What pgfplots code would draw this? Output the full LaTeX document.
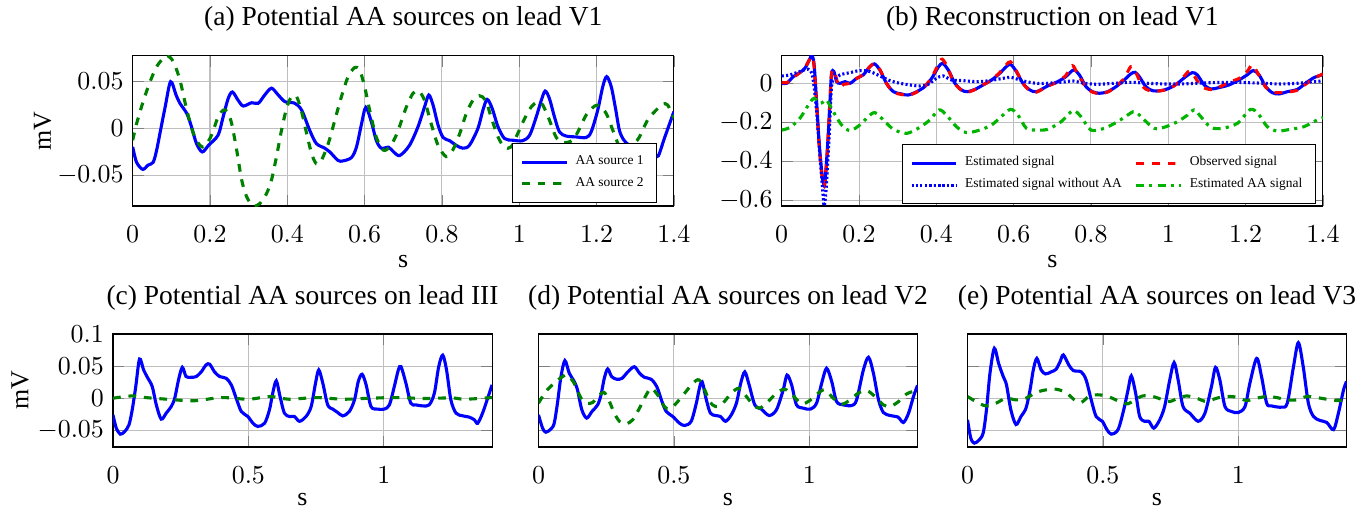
\documentclass[border=0pt]{standalone}
\usepackage{fontspec}
\setmainfont{Liberation Serif}
\usepackage{pgfplots}
\pgfplotsset{compat=1.18}
\definecolor{dgreen}{RGB}{0,128,0}
\definecolor{lgreen}{RGB}{0,180,0}
\definecolor{pblue}{RGB}{0,0,255}
\pgfplotsset{
  base/.style={scale only axis, anchor=south west, grid=major, xmin=0, xmax=1.4,
    enlargelimits=false, scaled ticks=false,
    yticklabel style={/pgf/number format/fixed,/pgf/number format/precision=3},
    tick label style={font=\fontsize{10}{12}\selectfont},
    xticklabel style={yshift=-4pt},
    title style={at={(0.5,1)}, anchor=base, yshift=5.5pt, font=\fontsize{10.6}{12.7}\selectfont},
    label style={font=\fontsize{10}{12}\selectfont},
    every axis plot/.append style={line width=1.2pt, smooth},
    legend cell align=left,
    legend style={font=\fontsize{5.2}{6.2}\selectfont, anchor=north west, inner xsep=3pt, inner ysep=2.6pt,
      row sep=-0.6pt, /tikz/every even column/.append style={column sep=3pt},
      /tikz/every odd column/.append style={column sep=1pt}},
  },
  toprow/.style={base, width=208.9pt, height=58.02pt, xtick={0,0.2,0.4,0.6,0.8,1,1.2,1.4},
    xlabel style={at={(axis description cs:0.5,-0.3706)}, anchor=center},
    ylabel style={at={(axis description cs:-0.1666,0.5)}, anchor=center}},
  botrow/.style={base, width=146.3pt, height=43.62pt, xtick={0,0.5,1}, ymin=-0.076, ymax=0.1,
    ytick={-0.05,0,0.05,0.1},
    xlabel style={at={(axis description cs:0.5,-0.469)}, anchor=center},
    ylabel style={at={(axis description cs:-0.2454,0.5)}, anchor=center}},
}
\begin{document}
\begin{tikzpicture}
\path[use as bounding box] (0,0) rectangle (529.21pt,-197.63pt);
% (a)
\begin{axis}[toprow, at={(51.22pt,-79.52pt)}, ymin=-0.0827, ymax=0.0777, ytick={-0.05,0,0.05},
  title={(a) Potential AA sources on lead V1}, xlabel={s}, ylabel={mV},
  legend style={at={(axis description cs:0.7013,0.4172)}}]
\addplot[pblue] coordinates {(0,-0.0196) (0.01,-0.036) (0.026,-0.0436) (0.04,-0.039) (0.053,-0.036) (0.062,-0.023) (0.072,-0.002) (0.084,0.023) (0.098,0.05) (0.112,0.036) (0.122,0.027) (0.14,0.016) (0.152,0.002) (0.165,-0.016) (0.18,-0.025) (0.196,-0.018) (0.221,-0.007) (0.234,0.0125) (0.247,0.032) (0.258,0.039) (0.273,0.030) (0.286,0.024) (0.3075,0.0275) (0.325,0.027) (0.342,0.036) (0.359,0.043) (0.376,0.036) (0.394,0.0286) (0.419,0.027) (0.437,0.0196) (0.458,-0.002) (0.475,-0.016) (0.497,-0.021) (0.51,-0.025) (0.531,-0.034) (0.544,-0.0346) (0.566,-0.031) (0.579,-0.0196) (0.592,0.005) (0.603,0.0225) (0.6175,0.007) (0.63,-0.0125) (0.643,-0.021) (0.662,-0.020) (0.675,-0.025) (0.691,-0.0288) (0.716,-0.018) (0.738,0.0018) (0.755,0.023) (0.766,0.0357) (0.777,0.025) (0.79,0.0036) (0.803,-0.0096) (0.82,-0.013) (0.837,-0.018) (0.854,-0.021) (0.871,-0.018) (0.893,0) (0.906,0.0196) (0.917,0.031) (0.93,0.0214) (0.945,0.0018) (0.962,-0.0107) (0.983,-0.0125) (1.009,-0.013) (1.027,-0.007) (1.044,0.0125) (1.057,0.030) (1.067,0.040) (1.078,0.032) (1.091,0.0125) (1.104,-0.0036) (1.121,-0.008) (1.147,-0.009) (1.173,-0.0096) (1.186,-0.0036) (1.203,0.0196) (1.216,0.0446) (1.226,0.0554) (1.238,0.0446) (1.249,0.0214) (1.259,-0.0018) (1.27,-0.012) (1.285,-0.018) (1.31,-0.021) (1.335,-0.023) (1.35,-0.027) (1.36,-0.029) (1.375,-0.011) (1.4,0.018)};
\addlegendentry{AA source 1}
\addplot[dgreen, dashed] coordinates {(0,-0.0125) (0.01,0.005) (0.028,0.030) (0.045,0.05) (0.062,0.066) (0.079,0.075) (0.09,0.0777) (0.105,0.0714) (0.122,0.052) (0.14,0.0196) (0.157,-0.0054) (0.174,-0.018) (0.187,-0.019) (0.204,-0.007) (0.221,0.0125) (0.234,0.0196) (0.245,0.018) (0.256,0.0054) (0.269,-0.023) (0.282,-0.055) (0.295,-0.073) (0.312,-0.0827) (0.329,-0.080) (0.346,-0.0696) (0.359,-0.055) (0.372,-0.030) (0.385,-0.0018) (0.398,0.0214) (0.411,0.034) (0.424,0.034) (0.437,0.018) (0.45,-0.0054) (0.463,-0.027) (0.475,-0.0375) (0.488,-0.034) (0.506,-0.016) (0.523,0.009) (0.54,0.034) (0.557,0.055) (0.574,0.065) (0.587,0.0625) (0.6,0.0446) (0.613,0.0196) (0.63,-0.009) (0.648,-0.023) (0.665,-0.0196) (0.682,-0.007) (0.699,0.0125) (0.708,0.023) (0.725,0.0375) (0.74,0.040) (0.755,0.030) (0.772,0.0054) (0.79,-0.018) (0.811,-0.030) (0.828,-0.023) (0.846,-0.0054) (0.863,0.016) (0.88,0.030) (0.897,0.035) (0.913,0.030) (0.927,0.0125) (0.945,-0.009) (0.962,-0.020) (0.979,-0.0196) (0.996,-0.0054) (1.014,0.0107) (1.031,0.023) (1.048,0.0286) (1.061,0.025) (1.078,0.009) (1.095,-0.009) (1.112,-0.015) (1.138,-0.0125) (1.156,0) (1.173,0.0143) (1.195,0.024) (1.207,0.024) (1.225,0.016) (1.242,-0.0018) (1.259,-0.0196) (1.272,-0.024) (1.285,-0.022) (1.30,-0.015) (1.311,-0.009) (1.332,0.009) (1.354,0.0196) (1.371,0.026) (1.384,0.025) (1.4,0.011)};
\addlegendentry{AA source 2}
\end{axis}
% (b)
\begin{axis}[toprow, at={(301.74pt,-79.52pt)}, ymin=-0.627, ymax=0.141, ytick={-0.6,-0.4,-0.2,0},
  title={(b) Reconstruction on lead V1}, xlabel={s},
  legend columns=2, legend style={at={(axis description cs:0.2218,0.4125)}}]
\addplot[pblue] coordinates {(0,0) (0.013,0) (0.03,0.034) (0.047,0.0545) (0.06,0.077) (0.0715,0.119) (0.0775,0.141) (0.0835,0.102) (0.09,-0.085) (0.097,-0.307) (0.104,-0.46) (0.108,-0.511) (0.112,-0.50) (0.119,-0.307) (0.125,-0.085) (0.129,0.051) (0.135,0.06) (0.142,0.0085) (0.151,0) (0.164,0.0085) (0.177,0) (0.194,0.0256) (0.211,0.043) (0.228,0.085) (0.24,0.099) (0.254,0.068) (0.271,0) (0.289,-0.043) (0.31,-0.0545) (0.327,-0.06) (0.349,-0.043) (0.37,-0.017) (0.388,0.0256) (0.405,0.082) (0.416,0.102) (0.431,0.068) (0.448,0) (0.465,-0.034) (0.48,-0.043) (0.5,-0.031) (0.521,-0.0085) (0.543,0.017) (0.564,0.051) (0.581,0.085) (0.592,0.097) (0.607,0.06) (0.624,0) (0.642,-0.034) (0.659,-0.043) (0.688,-0.0136) (0.714,0.0085) (0.735,0.034) (0.755,0.068) (0.77,0.043) (0.787,-0.017) (0.804,-0.043) (0.822,-0.051) (0.843,-0.043) (0.865,-0.017) (0.886,0.017) (0.903,0.048) (0.914,0.056) (0.925,0.034) (0.942,-0.017) (0.959,-0.0375) (0.981,-0.0375) (1.002,-0.0256) (1.024,0) (1.045,0.034) (1.062,0.0545) (1.075,0.043) (1.093,-0.0085) (1.11,-0.029) (1.131,-0.022) (1.157,-0.0085) (1.183,0.017) (1.204,0.043) (1.22,0.065) (1.235,0.043) (1.252,-0.017) (1.269,-0.048) (1.286,-0.0545) (1.308,-0.043) (1.334,-0.031) (1.355,0) (1.377,0.029) (1.398,0.043)};
\addlegendentry{Estimated signal}
\addplot[red, dashed] coordinates {(0,0.005) (0.013,0.003) (0.03,0.03) (0.047,0.055) (0.06,0.08) (0.0715,0.12) (0.0775,0.137) (0.0835,0.09) (0.09,-0.1) (0.097,-0.32) (0.104,-0.47) (0.108,-0.52) (0.112,-0.505) (0.119,-0.32) (0.125,-0.08) (0.129,0.05) (0.133,0.068) (0.138,0.05) (0.145,0.0) (0.152,-0.02) (0.16,-0.005) (0.177,0.0) (0.194,0.025) (0.211,0.045) (0.228,0.085) (0.24,0.1) (0.254,0.07) (0.271,0.0) (0.289,-0.045) (0.31,-0.057) (0.327,-0.062) (0.349,-0.045) (0.37,-0.015) (0.388,0.03) (0.405,0.095) (0.415,0.123) (0.428,0.085) (0.445,0.005) (0.465,-0.035) (0.48,-0.045) (0.5,-0.032) (0.521,-0.008) (0.543,0.018) (0.564,0.055) (0.581,0.095) (0.592,0.11) (0.605,0.07) (0.624,0.0) (0.642,-0.038) (0.659,-0.045) (0.688,-0.015) (0.714,0.008) (0.735,0.04) (0.752,0.09) (0.765,0.05) (0.787,-0.02) (0.804,-0.045) (0.822,-0.052) (0.843,-0.045) (0.865,-0.015) (0.886,0.025) (0.903,0.085) (0.915,0.06) (0.93,-0.005) (0.942,-0.03) (0.959,-0.04) (0.981,-0.038) (1.002,-0.028) (1.024,0.0) (1.045,0.045) (1.055,0.063) (1.068,0.035) (1.085,-0.015) (1.11,-0.032) (1.131,-0.02) (1.157,0.005) (1.183,0.025) (1.204,0.06) (1.217,0.094) (1.232,0.05) (1.252,-0.02) (1.269,-0.045) (1.29,-0.048) (1.308,-0.045) (1.334,-0.035) (1.355,-0.005) (1.377,0.025) (1.4,0.048)};
\addlegendentry{Observed signal}
\addplot[pblue, dash pattern=on 0.8pt off 0.9pt] coordinates {(0,0.0375) (0.0215,0.043) (0.047,0.06) (0.069,0.0716) (0.08,0.034) (0.09,-0.136) (0.099,-0.375) (0.106,-0.545) (0.11,-0.627) (0.116,-0.511) (0.123,-0.256) (0.129,-0.017) (0.136,0.017) (0.151,0.043) (0.177,0.0545) (0.202,0.065) (0.228,0.06) (0.254,0.0375) (0.28,0.0136) (0.306,0) (0.332,-0.0085) (0.357,-0.0136) (0.379,-0.005) (0.4,0.0256) (0.418,0.0375) (0.439,0.017) (0.469,0.0136) (0.504,0.0085) (0.538,0.0136) (0.573,0.0256) (0.594,0.03) (0.624,0.012) (0.659,0) (0.688,0) (0.731,0.007) (0.753,0.012) (0.783,0) (0.817,-0.005) (0.86,0) (0.903,0.005) (0.946,0) (0.989,-0.0034) (1.032,-0.0034) (1.075,0) (1.118,0.0034) (1.161,0.005) (1.204,0.0034) (1.247,0) (1.29,-0.0034) (1.334,0) (1.377,0.0085) (1.4,0.012)};
\addlegendentry{Estimated signal without AA}
\addplot[lgreen, dashdotted] coordinates {(0,-0.239) (0.0215,-0.225) (0.047,-0.179) (0.069,-0.111) (0.0835,-0.077) (0.099,-0.102) (0.108,-0.094) (0.116,-0.085) (0.1335,-0.145) (0.155,-0.213) (0.177,-0.242) (0.202,-0.213) (0.224,-0.17) (0.241,-0.15) (0.263,-0.1875) (0.289,-0.235) (0.323,-0.256) (0.357,-0.225) (0.383,-0.1875) (0.407,-0.136) (0.426,-0.162) (0.452,-0.2216) (0.478,-0.252) (0.512,-0.239) (0.543,-0.213) (0.568,-0.17) (0.592,-0.133) (0.611,-0.162) (0.633,-0.23) (0.659,-0.239) (0.688,-0.235) (0.723,-0.196) (0.753,-0.14) (0.774,-0.17) (0.8,-0.239) (0.834,-0.23) (0.869,-0.196) (0.895,-0.162) (0.914,-0.145) (0.938,-0.1875) (0.964,-0.23) (0.989,-0.225) (1.024,-0.196) (1.05,-0.162) (1.067,-0.136) (1.084,-0.17) (1.11,-0.225) (1.14,-0.23) (1.179,-0.2045) (1.213,-0.133) (1.235,-0.162) (1.256,-0.2216) (1.282,-0.244) (1.316,-0.235) (1.351,-0.2216) (1.385,-0.1875) (1.4,-0.1756)};
\addlegendentry{Estimated AA signal}
\end{axis}
% (c)
\begin{axis}[botrow, at={(43.62pt,-172.54pt)}, title={(c) Potential AA sources on lead III}, xlabel={s}, ylabel={mV}]
\addplot[pblue] coordinates {(0,-0.026) (0.012,-0.0466) (0.027,-0.056) (0.043,-0.052) (0.059,-0.0415) (0.071,-0.018) (0.084,0.018) (0.098,0.061) (0.113,0.044) (0.129,0.031) (0.145,0.018) (0.16,-0.0104) (0.178,-0.0326) (0.197,-0.023) (0.215,-0.013) (0.228,0) (0.242,0.0285) (0.256,0.048) (0.27,0.0337) (0.289,0.0326) (0.3075,0.0337) (0.326,0.041) (0.344,0.052) (0.357,0.053) (0.375,0.041) (0.394,0.0337) (0.418,0.031) (0.437,0.0207) (0.455,0) (0.474,-0.0207) (0.498,-0.0285) (0.517,-0.039) (0.535,-0.044) (0.56,-0.039) (0.578,-0.018) (0.59,0.0078) (0.603,0.027) (0.617,0.0026) (0.633,-0.0233) (0.652,-0.0285) (0.67,-0.0285) (0.689,-0.036) (0.713,-0.0285) (0.732,-0.013) (0.748,0.0233) (0.76,0.044) (0.775,0.0233) (0.793,-0.0104) (0.812,-0.017) (0.83,-0.0223) (0.849,-0.0275) (0.873,-0.0207) (0.892,-0.0026) (0.906,0.026) (0.92,0.0373) (0.935,0.0207) (0.953,-0.013) (0.978,-0.017) (1.002,-0.017) (1.021,-0.0104) (1.039,0.018) (1.054,0.044) (1.064,0.049) (1.082,0.0233) (1.1,-0.0078) (1.119,-0.0104) (1.144,-0.012) (1.168,-0.0104) (1.187,0.0078) (1.203,0.049) (1.218,0.067) (1.232,0.044) (1.248,-0.0026) (1.267,-0.0233) (1.292,-0.0275) (1.316,-0.0295) (1.335,-0.0337) (1.347,-0.039) (1.365,-0.0233) (1.384,0) (1.4,0.0207)};
\addplot[dgreen, dashed] coordinates {(0,0) (0.07,0.0036) (0.12,0.001) (0.2,-0.0016) (0.3,-0.004) (0.4,0.001) (0.5,-0.0016) (0.58,0.0026) (0.65,-0.0016) (0.75,0.001) (0.85,-0.0016) (0.95,0) (1.05,0.001) (1.15,-0.0005) (1.25,0.0005) (1.3,-0.0016) (1.4,0.001)};
\end{axis}
% (d)
\begin{axis}[botrow, at={(207.86pt,-172.54pt)}, title={(d) Potential AA sources on lead V2}, xlabel={s}, yticklabels={}]
\addplot[pblue] coordinates {(0,-0.026) (0.015,-0.0466) (0.027,-0.053) (0.046,-0.048) (0.058,-0.039) (0.07,-0.0078) (0.083,0.0337) (0.0975,0.0585) (0.1136,0.039) (0.132,0.026) (0.144,0.013) (0.16,-0.018) (0.178,-0.031) (0.1975,-0.0207) (0.2185,-0.0104) (0.231,0.0052) (0.243,0.031) (0.2556,0.0456) (0.27,0.0337) (0.289,0.0295) (0.3086,0.031) (0.33,0.041) (0.354,0.049) (0.373,0.039) (0.391,0.0326) (0.416,0.0295) (0.437,0.018) (0.456,-0.0052) (0.472,-0.0207) (0.496,-0.0285) (0.521,-0.039) (0.54,-0.0425) (0.564,-0.036) (0.583,-0.0078) (0.593,0.013) (0.604,0.026) (0.62,-0.0026) (0.635,-0.0233) (0.654,-0.027) (0.672,-0.0285) (0.691,-0.036) (0.712,-0.026) (0.731,-0.0078) (0.747,0.0233) (0.762,0.041) (0.778,0.0207) (0.799,-0.0104) (0.823,-0.017) (0.852,-0.027) (0.879,-0.018) (0.904,0.013) (0.918,0.036) (0.935,0.0207) (0.953,-0.0104) (0.978,-0.0155) (1.005,-0.017) (1.027,-0.0078) (1.046,0.0233) (1.064,0.0466) (1.083,0.026) (1.101,-0.0052) (1.126,-0.0104) (1.157,-0.0114) (1.175,-0.0026) (1.2,0.044) (1.219,0.0637) (1.237,0.039) (1.256,-0.0026) (1.274,-0.0223) (1.299,-0.027) (1.328,-0.0295) (1.348,-0.0378) (1.367,-0.0233) (1.385,0.0026) (1.4,0.02)};
\addplot[dgreen, dashed] coordinates {(0,-0.0078) (0.027,0.0104) (0.058,0.0233) (0.089,0.0337) (0.107,0.036) (0.132,0.0233) (0.157,0) (0.178,-0.0078) (0.2,-0.0067) (0.225,0.0052) (0.243,0.0088) (0.262,-0.0052) (0.28,-0.0233) (0.299,-0.036) (0.323,-0.04) (0.348,-0.0337) (0.373,-0.0155) (0.398,0.0052) (0.416,0.0155) (0.44,0.0052) (0.465,-0.013) (0.484,-0.017) (0.509,-0.0078) (0.54,0.0078) (0.57,0.0233) (0.593,0.0285) (0.614,0.013) (0.632,-0.0052) (0.654,-0.013) (0.681,-0.0078) (0.712,0.0078) (0.741,0.0155) (0.768,0.0026) (0.793,-0.0104) (0.817,-0.0155) (0.848,-0.0052) (0.879,0.0078) (0.91,0.014) (0.941,0.0036) (0.972,-0.0088) (1.002,-0.0036) (1.033,0.0078) (1.058,0.013) (1.089,0) (1.12,-0.0093) (1.151,-0.0026) (1.181,0.0078) (1.212,0.012) (1.243,0.0026) (1.274,-0.0104) (1.299,-0.013) (1.33,-0.0052) (1.36,0.0067) (1.385,0.0104) (1.4,0.0088)};
\end{axis}
% (e)
\begin{axis}[botrow, at={(373.46pt,-172.54pt)}, title={(e) Potential AA sources on lead V3}, xlabel={s}, yticklabels={}]
\addplot[pblue] coordinates {(0,-0.0337) (0.012,-0.062) (0.025,-0.07) (0.043,-0.065) (0.058,-0.054) (0.07,-0.018) (0.083,0.039) (0.099,0.0777) (0.115,0.054) (0.132,0.0337) (0.144,0.0207) (0.16,-0.018) (0.179,-0.041) (0.1975,-0.0285) (0.216,-0.0155) (0.231,0.013) (0.243,0.044) (0.256,0.062) (0.272,0.044) (0.288,0.0378) (0.309,0.041) (0.327,0.045) (0.342,0.057) (0.354,0.0674) (0.374,0.0518) (0.391,0.043) (0.42,0.041) (0.438,0.0285) (0.457,-0.0026) (0.475,-0.0285) (0.498,-0.036) (0.515,-0.049) (0.531,-0.056) (0.556,-0.049) (0.577,-0.018) (0.593,0.013) (0.605,0.0347) (0.621,0.0078) (0.636,-0.0285) (0.654,-0.036) (0.67,-0.036) (0.688,-0.0466) (0.71,-0.0337) (0.728,-0.013) (0.747,0.0285) (0.763,0.0554) (0.778,0.0285) (0.796,-0.013) (0.821,-0.0233) (0.852,-0.036) (0.877,-0.0233) (0.901,0.018) (0.916,0.048) (0.932,0.0285) (0.951,-0.013) (0.975,-0.0207) (1.0,-0.0223) (1.025,-0.013) (1.043,0.0233) (1.068,0.062) (1.086,0.0337) (1.105,-0.0078) (1.123,-0.012) (1.16,-0.014) (1.181,-0.0078) (1.204,0.049) (1.222,0.0865) (1.24,0.049) (1.259,-0.0078) (1.278,-0.0285) (1.302,-0.0347) (1.327,-0.0378) (1.352,-0.049) (1.37,-0.0233) (1.389,0.013) (1.4,0.026)};
\addplot[dgreen, dashed] coordinates {(0,0.0026) (0.031,-0.0052) (0.068,-0.012) (0.105,-0.0078) (0.142,0) (0.179,-0.0026) (0.216,0) (0.253,0.0088) (0.29,0.013) (0.327,0.014) (0.364,0.0088) (0.395,-0.0026) (0.42,-0.0067) (0.451,0.0036) (0.488,0.0052) (0.525,0.0016) (0.562,-0.0052) (0.593,-0.0088) (0.617,-0.0026) (0.648,0.0036) (0.685,0.0026) (0.722,-0.0026) (0.747,-0.0052) (0.778,0) (0.809,0.0036) (0.846,0) (0.883,-0.0052) (0.92,0) (0.957,0.0026) (0.994,0.0016) (1.031,-0.0036) (1.068,0) (1.105,0.0026) (1.142,0.001) (1.179,-0.0026) (1.216,-0.0026) (1.253,0.0026) (1.29,0.001) (1.327,-0.0016) (1.364,-0.0036) (1.4,-0.0026)};
\end{axis}
\end{tikzpicture}
\end{document}
